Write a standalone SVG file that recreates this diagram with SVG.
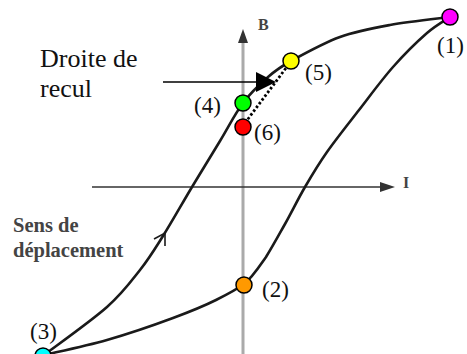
<svg xmlns="http://www.w3.org/2000/svg" width="467" height="354" viewBox="0 0 467 354">
<style>
text{font-family:'Liberation Serif','Times New Roman',serif}
.lbl{font-size:23px;fill:#111}
.big{font-size:26px;fill:#111}
.bold{font-weight:bold;fill:#444}
.curve{fill:none;stroke:#1a1a1a;stroke-width:2.6;stroke-linecap:round}
.pt{stroke:#000;stroke-width:1.5}
</style>
<rect width="467" height="354" fill="#fff"/>
<g id="connectors">
  <line x1="243" y1="40" x2="243" y2="354" stroke="#aaa" stroke-width="3"/>
  <polygon points="243,29 238,43 248,43" fill="#333"/>
  <line x1="92" y1="187" x2="382" y2="187" stroke="#333" stroke-width="1.5"/>
  <polygon points="395,187 380,182 380,192" fill="#333"/>
  <path class="curve" d="M44,355 C54.5,347 91,321.2 107,307 C123,292.8 130.7,281.8 140,270 C149.3,258.2 154.3,249.8 163,236 C171.7,222.2 182.5,202.8 192,187 C201.5,171.2 211.5,155 220,141 C228.5,127 235,113.7 243,103 C251,92.3 260,84 268,77 C276,70 279,67.7 291,61 C303.2,54.3 323.5,43 340,37 C356.5,31 371.7,28.3 390,25 C408.3,21.7 440,18.3 450,17"/>
  <path class="curve" d="M44,355 C54.5,352.5 85.5,346.2 107,340 C128.5,333.8 155,324.7 173,318 C191,311.3 204,306 216,300 C228,294 236,290 244,284 C252,278 259,267 266,257 C272.8,246 278.5,235.5 285,224 C291.5,212.5 298,199 305,187 C312,175 318,164.8 327,152 C336,139.2 348,124.2 359,110 C370,95.8 381.7,79.8 393,67 C404.3,54.2 417.5,41.3 427,33 C436.5,24.7 446.2,19.7 450,17"/>
  <path d="M154,239 L165,233 L165,246" fill="none" stroke="#1a1a1a" stroke-width="1.6"/>
  <line x1="245" y1="123" x2="289" y2="64" stroke="#000" stroke-width="2.8" stroke-dasharray="2.5 2.2"/>
  <line x1="163" y1="82" x2="258" y2="82" stroke="#000" stroke-width="1.5"/>
  <polygon points="256,72 276,82 256,92" fill="#000"/>
</g>
<g id="axis-labels">
  <text class="bold" x="258" y="30" font-size="16">B</text>
  <text class="bold" x="403" y="188" font-size="16">I</text>
</g>
<g id="droite-de-recul">
  <text class="big" x="40" y="67">Droite de</text>
  <text class="big" x="40" y="97">recul</text>
</g>
<g id="sens-de-deplacement">
  <text class="bold" x="13" y="232" font-size="20.5">Sens de</text>
  <text class="bold" x="13" y="257" font-size="20.5">déplacement</text>
</g>
<g id="p1">
  <circle class="pt" cx="450" cy="17" r="8" fill="#ff00ff"/>
  <text class="lbl" x="437" y="53">(1)</text>
</g>
<g id="p5">
  <circle class="pt" cx="291" cy="61" r="8" fill="#ffff00"/>
  <text class="lbl" x="305" y="80">(5)</text>
</g>
<g id="p4">
  <circle class="pt" cx="243" cy="103" r="8" fill="#00ff00"/>
  <text class="lbl" x="194" y="113">(4)</text>
</g>
<g id="p6">
  <circle class="pt" cx="243" cy="127" r="8" fill="#ff0000"/>
  <text class="lbl" x="254" y="140">(6)</text>
</g>
<g id="p2">
  <circle class="pt" cx="244" cy="285" r="8" fill="#ff9900"/>
  <text class="lbl" x="262" y="297">(2)</text>
</g>
<g id="p3">
  <circle class="pt" cx="43" cy="356" r="8" fill="#00ffff"/>
  <text class="lbl" x="30" y="339">(3)</text>
</g>
</svg>
